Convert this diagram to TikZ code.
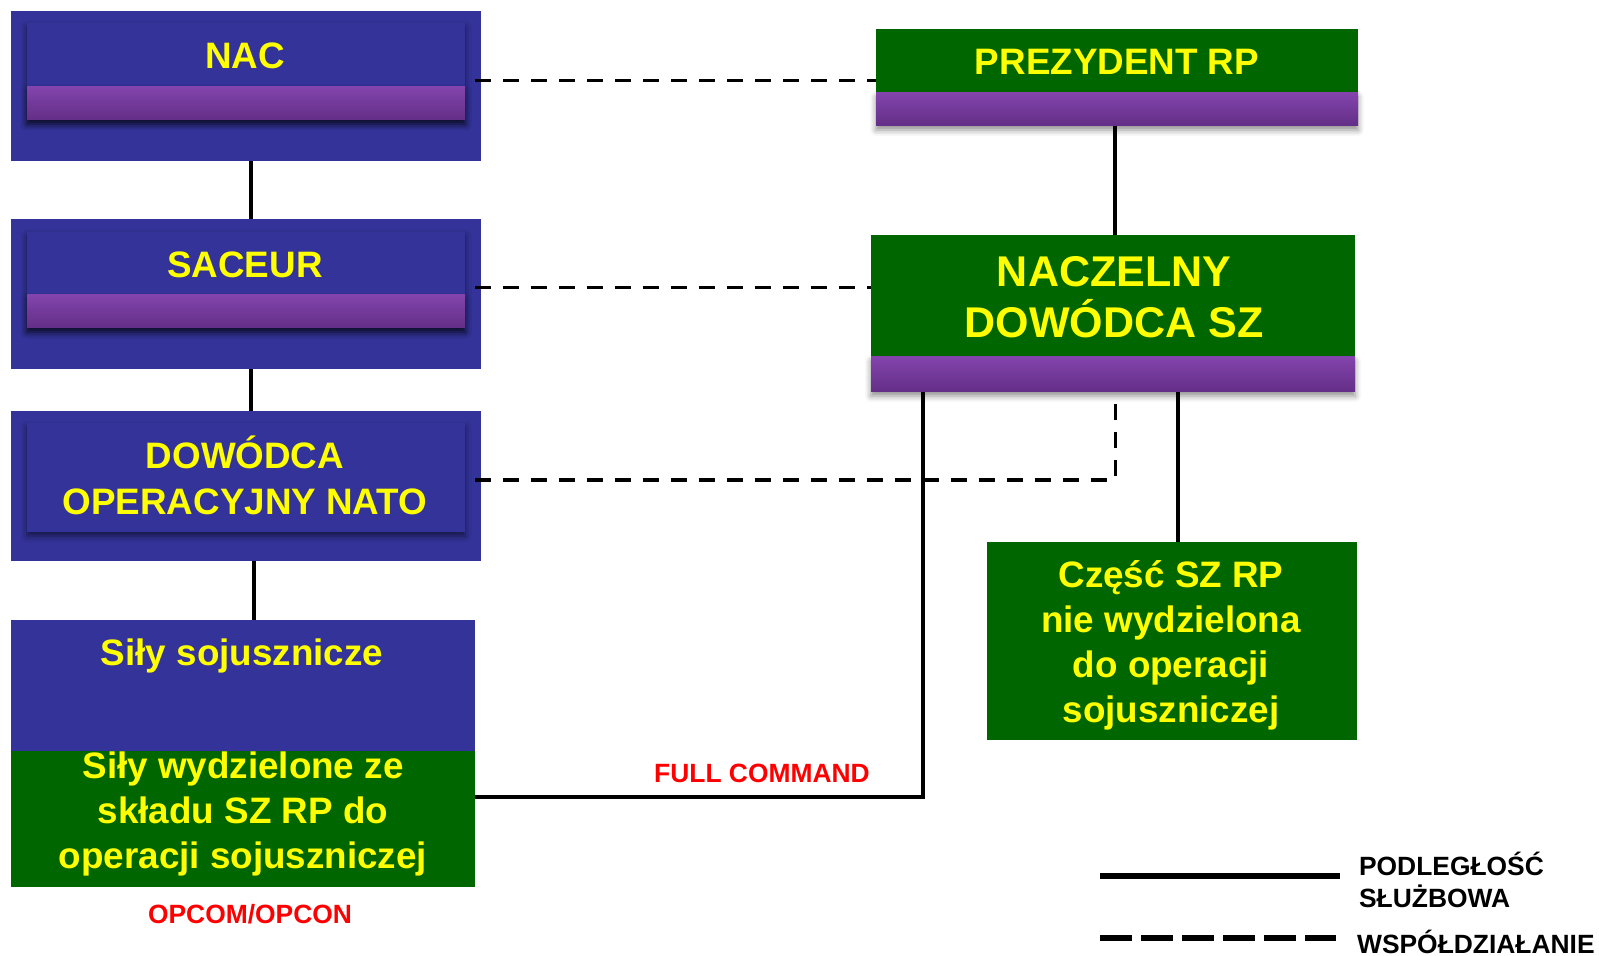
\documentclass[tikz,border=0pt]{standalone}
\usepackage{fontspec}
\setmainfont{Liberation Sans}
\usetikzlibrary{positioning, shadows.blur}

\definecolor{natoblue}{RGB}{51,51,153}
\definecolor{plgreen}{RGB}{0,102,0}
\definecolor{barpurple}{RGB}{124,58,168}
\definecolor{txtyellow}{RGB}{255,255,0}
\definecolor{txtred}{RGB}{255,0,0}

\newcommand{\boxfont}{\fontsize{18.4}{22.5}\selectfont\bfseries}
\newcommand{\headfont}{\fontsize{21.5}{25.5}\selectfont\bfseries}
\newcommand{\notefont}{\fontsize{13.2}{16}\selectfont\bfseries}

\begin{document}
\begin{tikzpicture}[x=0.5pt, y=-0.5pt,
    natobox/.style={fill=natoblue, inner sep=0pt, minimum width=235pt, minimum height=75pt},
    plbox/.style={fill=plgreen, inner sep=0pt},
    panel/.style={fill=natoblue, inner sep=0pt, minimum width=219pt,
        blur shadow={shadow xshift=0pt, shadow yshift=-2pt, shadow blur radius=3pt, shadow opacity=55}},
    bar/.style={top color=barpurple!95!white, bottom color=barpurple!80!black, inner sep=0pt,
        blur shadow={shadow xshift=0pt, shadow yshift=-2pt, shadow blur radius=3pt, shadow opacity=45}},
    boxtext/.style={text=txtyellow, font=\boxfont, align=center, anchor=base},
    note/.style={text=txtred, font=\notefont, anchor=base},
    legtext/.style={font=\notefont, align=left, anchor=base west},
    sub/.style={draw=black, line width=2pt},
    coop/.style={draw=black, line width=1.5pt, dash pattern=on 8pt off 6pt}]
    \useasboundingbox (0,0) rectangle (1599,956);

    % NATO side
    \node[natobox] (nac) at (246,86) {};
    \node[panel, minimum height=48.5pt] (nacpanel) at (246,71.5) {};
    \node[bar, minimum width=219pt, minimum height=16.5pt] (nacbar) at (246,103.5) {};
    \node[boxtext] (nactxt) at (245,69) {NAC};

    \node[natobox] (saceur) at (246,294) {};
    \node[panel, minimum height=48pt] (saceurpanel) at (246,280) {};
    \node[bar, minimum width=219pt, minimum height=16.5pt] (saceurbar) at (246,311.5) {};
    \node[boxtext] (saceurtxt) at (245,278) {SACEUR};

    \node[natobox] (dow) at (246,486) {};
    \node[panel, minimum height=54.5pt] (dowpanel) at (246,477.5) {};
    \node[boxtext] (dowtxt) at (245,514) {DOWÓDCA\\OPERACYJNY NATO};

    \node[natobox, minimum width=232pt, minimum height=65.5pt] (sily) at (243,685.5) {};
    \node[plbox, minimum width=232pt, minimum height=68pt] (wyd) at (243,819) {};
    \node[boxtext] (silytxt) at (242,665) {Siły sojusznicze};
    \node[boxtext] (wydtxt) at (243,868) {Siły wydzielone ze\\składu SZ RP do\\operacji sojuszniczej};
    \node[note] (opcom) at (250,923) {OPCOM/OPCON};

    % Polish side
    \node[plbox, minimum width=241pt, minimum height=32pt] (prez) at (1117,61) {};
    \node[bar, minimum width=241pt, minimum height=16.5pt] (prezbar) at (1117,109.5) {};
    \node[boxtext] (preztxt) at (1117,75) {PREZYDENT RP};

    \node[plbox, minimum width=242pt, minimum height=61pt] (ndsz) at (1113,296) {};
    \node[bar, minimum width=242pt, minimum height=17.5pt] (ndszbar) at (1113,374.5) {};
    \node[boxtext, font=\headfont] (ndsztxt) at (1114,338) {NACZELNY\\DOWÓDCA SZ};

    \node[plbox, minimum width=185pt, minimum height=99pt] (czesc) at (1172,641) {};
    \node[boxtext] (czesctxt) at (1171,722) {Część SZ RP\\nie wydzielona\\do operacji\\sojuszniczej};

    % connectors
    \draw[sub] ([xshift=2.5pt]nac.south) -- ([xshift=2.5pt]saceur.north);
    \draw[sub] ([xshift=2.5pt]saceur.south) -- ([xshift=2.5pt]dow.north);
    \draw[sub] ([xshift=4pt]dow.south) -- ([xshift=4pt]dow.south |- sily.north);
    \draw[sub] ([xshift=-1pt]prezbar.south) -- ([xshift=-1pt]prezbar.south |- ndsz.north);
    \draw[sub] ([xshift=3pt]czesc.north) -- ([xshift=3pt]czesc.north |- ndszbar.south);
    \draw[sub] ([xshift=26pt]ndszbar.south west) |- ([yshift=11pt]wyd.east);
    \node[note] (fullcmd) at (762,782) {FULL COMMAND};

    \draw[coop] ([xshift=-3pt, yshift=2.5pt]nac.east) -- ([yshift=2.5pt]nac.east -| prez.west);
    \draw[coop] ([xshift=-3pt, yshift=3pt]saceur.east) -- ([yshift=3pt]saceur.east -| ndsz.west);
    \draw[coop] ([xshift=-3pt, yshift=3pt]dow.east) -| ([xshift=1pt]ndszbar.south);

    % legend
    \coordinate (solidA) at (1100,876);
    \coordinate (solidB) at (1340,876);
    \coordinate (dashA) at (1100,938);
    \coordinate (dashB) at (1336,938);
    \draw[line width=3pt] (solidA) -- (solidB);
    \draw[line width=3pt, dash pattern=on 16pt off 4.5pt] (dashA) -- (dashB);
    \node[legtext] (podl) at (1352,907) {PODLEGŁOŚĆ\\SŁUŻBOWA};
    \node[legtext] (wspol) at (1350,953) {WSPÓŁDZIAŁANIE};
\end{tikzpicture}
\end{document}
